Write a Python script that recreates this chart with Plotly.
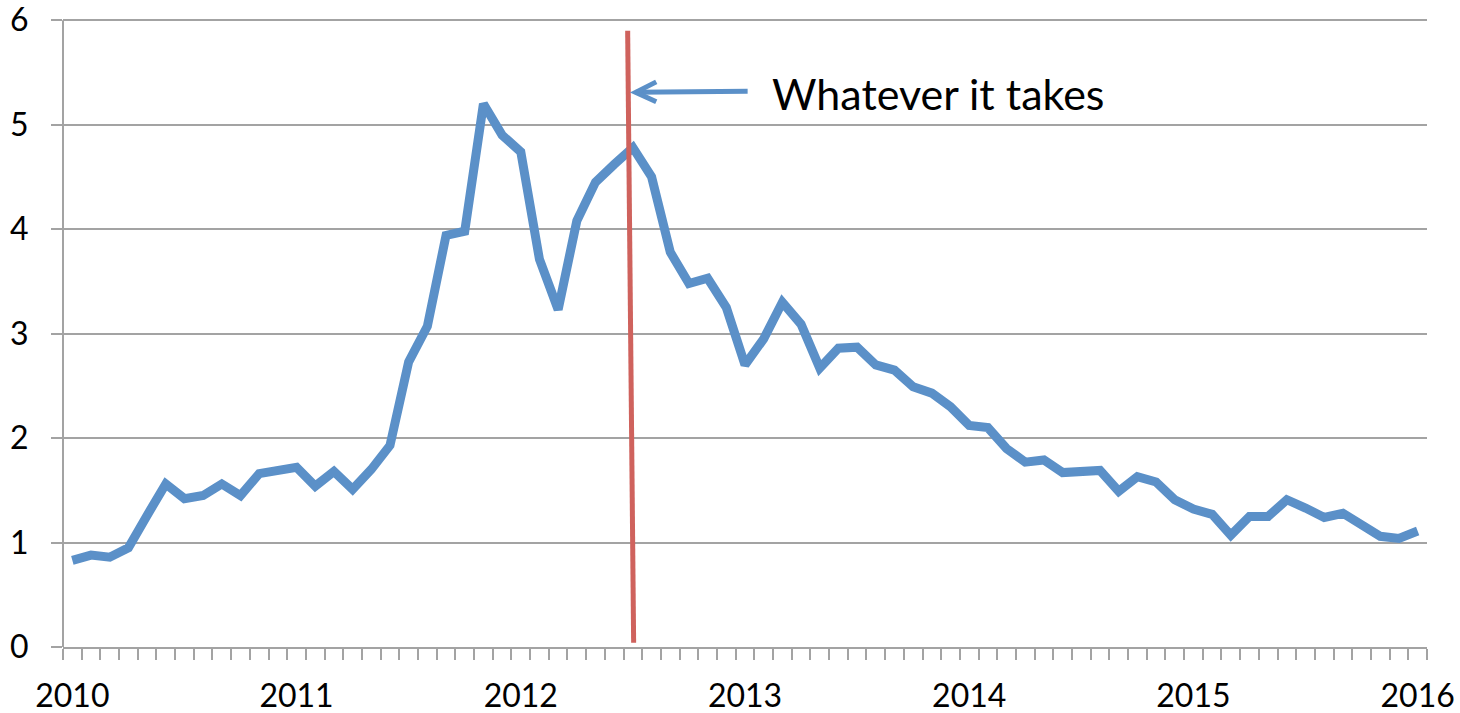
import plotly.graph_objects as go

# Monthly values, Jan 2010 .. Jan 2016 (73 points)
values = [0.83, 0.88, 0.86, 0.95, 1.26, 1.56, 1.42, 1.45, 1.56, 1.45, 1.66, 1.69,
          1.72, 1.54, 1.68, 1.51, 1.70, 1.93, 2.73, 3.07, 3.94, 3.98, 5.20, 4.90,
          4.74, 3.71, 3.23, 4.08, 4.45, 4.62, 4.78, 4.50, 3.78, 3.48, 3.53, 3.25,
          2.70, 2.95, 3.30, 3.09, 2.67, 2.86, 2.87, 2.70, 2.65, 2.49, 2.43, 2.30,
          2.12, 2.10, 1.90, 1.77, 1.79, 1.67, 1.69, 1.69, 1.49, 1.63, 1.58, 1.41,
          1.32, 1.27, 1.07, 1.25, 1.25, 1.41, 1.33, 1.24, 1.28, 1.18, 1.06, 1.04,
          1.11]
x_idx = list(range(len(values)))
year_labels = ["2010", "2011", "2012", "2013", "2014", "2015", "2016"]
year_pos = [0, 12, 24, 36, 48, 60, 72]
y_ticks = [0, 1, 2, 3, 4, 5, 6]

# Event marker ("Whatever it takes", July 2012)
event_x_top, event_x_bottom = 29.72, 30.04
event_y_top, event_y_bottom = 5.90, 0.04
arrow_head = (30.15, 5.31)
arrow_tail = (36.14, 5.32)
label_text = "Whatever it takes"
label_pos = (37.35, 5.30)

BLUE = "#5B90C8"
RED = "#CF625D"
GRID = "#A3A3A3"
FONT = "Lato"

fig = go.Figure()
fig.add_trace(go.Scatter(x=x_idx, y=values, mode="lines",
                         line=dict(color=BLUE, width=9), hoverinfo="skip"))

# y axis line drawn only across the tick range (0..6)
fig.add_shape(type="line", xref="paper", yref="y",
              x0=0, x1=0, y0=y_ticks[0], y1=y_ticks[-1],
              line=dict(color=GRID, width=2))

fig.add_shape(type="line", xref="x", yref="y",
              x0=event_x_top, y0=event_y_top, x1=event_x_bottom, y1=event_y_bottom,
              line=dict(color=RED, width=5))

# arrow shaft
fig.add_shape(type="line", xref="x", yref="y",
              x0=arrow_tail[0], y0=arrow_tail[1], x1=arrow_head[0], y1=arrow_head[1],
              line=dict(color=BLUE, width=5))
# arrow head (open chevron)
hx, hy = arrow_head
fig.add_shape(type="path", xref="x", yref="y",
              path=f"M {hx+1.1} {hy+0.10} L {hx} {hy} L {hx+1.1} {hy-0.09}",
              line=dict(color=BLUE, width=5))

fig.add_annotation(x=label_pos[0], y=label_pos[1], xref="x", yref="y",
                   text=label_text, showarrow=False, xanchor="left", yanchor="middle",
                   font=dict(family=FONT, size=43, color="black"))

fig.update_layout(
    width=1460, height=713,
    margin=dict(l=63, r=33, t=15, b=66),
    paper_bgcolor="white", plot_bgcolor="white",
    showlegend=False,
    font=dict(family=FONT, size=32, color="black"),
)
fig.update_xaxes(
    range=[-0.5, 72.5], automargin=False,
    tickvals=year_pos, ticktext=year_labels,
    ticks="", showgrid=False, zeroline=False,
    showline=True, linecolor=GRID, linewidth=2,
    tickfont=dict(family=FONT, size=32, color="black"),
    ticklabelstandoff=20,
    minor=dict(ticks="outside", tick0=-0.5, dtick=1, ticklen=11,
               tickcolor=GRID, tickwidth=2, showgrid=False),
)
fig.update_yaxes(
    range=[0, 6.05], tickvals=y_ticks, automargin=False,
    ticklabeloverflow="allow",
    showgrid=True, gridcolor=GRID, gridwidth=2,
    zeroline=False, showline=False,
    ticks="outside", ticklen=11, tickcolor=GRID, tickwidth=2,
    tickfont=dict(family=FONT, size=32, color="black"),
    ticklabelstandoff=16,
)

fig.write_html("out.html")
